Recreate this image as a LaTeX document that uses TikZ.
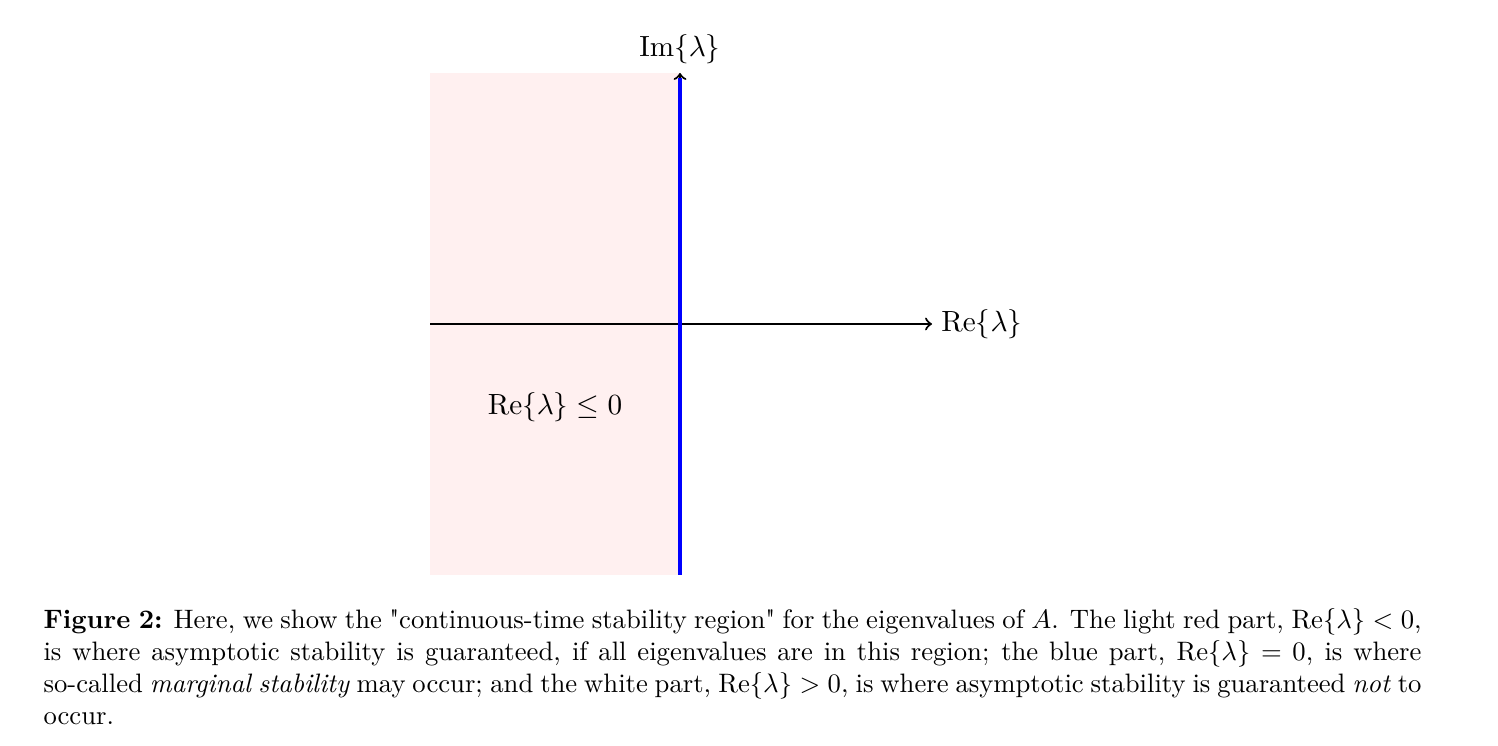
\documentclass[tikz,border=0pt]{standalone}
\usepackage{amsmath}
\usepackage{tikz}
\usetikzlibrary{calc}
\font\quotefont="[lmroman10-regular]" at 10pt
\newcommand{\sq}{{\quotefont"}}
\tikzset{
  axis/.style={draw=black, line width=0.8pt, ->},
  marginal/.style={draw=blue, line width=1.3pt},
  stable/.style={fill=red!6},
  lbl/.style={font=\fontsize{11}{13}\selectfont},
  capt/.style={anchor=base west, inner sep=0pt, text width=516.75pt, align=justify,
    font=\fontsize{10}{12}\selectfont},
}

\begin{document}
\begin{tikzpicture}[x=0.375pt, y=-0.375pt]
  \useasboundingbox (0,0) rectangle (1498,746);

  \coordinate (left) at (430,324);
  \coordinate (bottom) at (680,575);

  % stability region
  \fill[stable] (430,73) rectangle (bottom);

  \node (relabel) [lbl, anchor=west] at (932,324) {$\mathrm{Re}\{\lambda\}$};
  \node (imlabel) [lbl, anchor=south] at (680,73) {$\mathrm{Im}\{\lambda\}$};
  \node (stablelabel) [lbl] at (555,407) {$\mathrm{Re}\{\lambda\} \leq 0$};

  \draw[axis] (left) -- (relabel);
  \draw[axis] (bottom) -- (imlabel);
  \draw[marginal] (bottom) -- ($(imlabel.south)+(0,5)$);

  \node (caption) [capt] at (43,629) {\textbf{Figure 2:} Here, we show the \sq continuous-time stability region\sq{} for the eigenvalues of $A$. The light red part, $\mathrm{Re}\{\lambda\} < 0$,\linebreak
    is where asymptotic stability is guaranteed, if all eigenvalues are in this region; the blue part, $\mathrm{Re}\{\lambda\} = 0$, is where\linebreak
    so-called \emph{marginal stability} may occur; and the white part, $\mathrm{Re}\{\lambda\} > 0$, is where asymptotic stability is guaranteed \emph{not} to\linebreak
    occur.};
\end{tikzpicture}
\end{document}
